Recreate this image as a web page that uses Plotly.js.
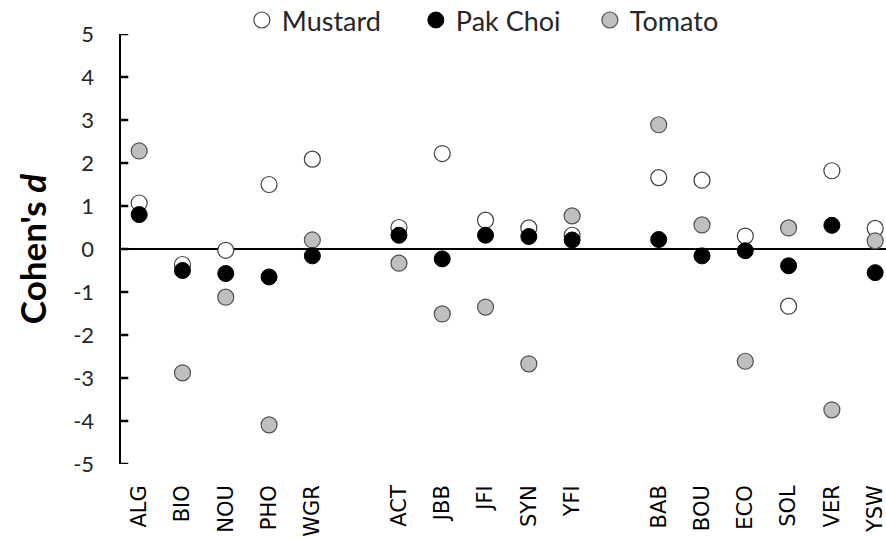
<!DOCTYPE html>
<html>
<head>
<meta charset="utf-8">
<script src="https://cdn.plot.ly/plotly-3.0.1.min.js"></script>
<style>html,body{margin:0;padding:0;background:#fff;}#chart{width:886px;height:538px;}</style>
</head>
<body>
<div id="chart"></div>
<script>
// Category labels and their slot positions (gaps between site groups)
const categories = ["ALG","BIO","NOU","PHO","WGR","ACT","JBB","JFI","SYN","YFI","BAB","BOU","ECO","SOL","VER","YSW"];
const slots = [0,1,2,3,4,6,7,8,9,10,12,13,14,15,16,17];

const mustard = [1.07,-0.36,-0.03,1.50,2.09,0.50,2.22,0.67,0.49,0.32,1.66,1.60,0.30,-1.33,1.82,0.48];
const pakChoi = [0.80,-0.50,-0.57,-0.65,-0.16,0.32,-0.23,0.32,0.29,0.21,0.22,-0.16,-0.04,-0.39,0.55,-0.55];
const tomato  = [2.28,-2.88,-1.12,-4.09,0.21,-0.33,-1.51,-1.35,-2.67,0.77,2.89,0.56,-2.61,0.49,-3.74,0.19];

const yTicks = [-5,-4,-3,-2,-1,0,1,2,3,4,5];
const yTickText = ["-5","-4","-3","-2","-1","0","1","2","3","4","5"];

const traces = [
  {name:"Mustard", x:slots, y:mustard, type:"scatter", mode:"markers", legendrank:1,
   marker:{size:16, color:"#ffffff", line:{color:"#404040", width:1.2}}},
  {name:"Tomato", x:slots, y:tomato, type:"scatter", mode:"markers", legendrank:3,
   marker:{size:16, color:"#bfbfbf", line:{color:"#505050", width:1.2}}},
  {name:"Pak Choi", x:slots, y:pakChoi, type:"scatter", mode:"markers", legendrank:2,
   marker:{size:16, color:"#000000", line:{color:"#000000", width:1}}}
];

// inside tick marks on the y axis, one per tick value
const tickShapes = yTicks.map(v => ({
  type:"line", xref:"paper", yref:"y", x0:0, x1:0.0095, y0:v, y1:v,
  line:{color:"#000000", width:2.5}, layer:"above"
}));

const layout = {
  width:886, height:538,
  margin:{l:121, r:0, t:34, b:74, pad:0, autoexpand:false},
  paper_bgcolor:"#ffffff", plot_bgcolor:"#ffffff",
  showlegend:true,
  legend:{orientation:"h", x:0.158, xanchor:"left", yref:"container", y:0.962, yanchor:"middle",
          entrywidth:129,
          font:{family:"Lato, 'Open Sans', sans-serif", size:27, color:"#262626"},
          bgcolor:"rgba(0,0,0,0)", traceorder:"normal"},
  xaxis:{range:[-0.42,17.25], tickvals:slots, ticktext:categories, tickangle:-90,
         showgrid:false, zeroline:false, showline:false, ticks:"", fixedrange:true,
         ticklabelstandoff:16, ticklabeloverflow:"allow", automargin:false,
         tickfont:{family:"'DejaVu Sans', sans-serif", size:21, color:"#000000"}},
  yaxis:{range:[-5,5], tickvals:yTicks, ticktext:yTickText, showgrid:false, zeroline:true, zerolinecolor:"#000000",
         zerolinewidth:2.5, showline:true, linecolor:"#000000", linewidth:2.5,
         ticks:"outside", ticklen:20, tickwidth:1, tickcolor:"rgba(0,0,0,0)", automargin:false,
         tickfont:{family:"Lato, 'Open Sans', sans-serif", size:22, color:"#262626"},
         title:{text:"<b>Cohen's <i>d</i></b>", standoff:16,
                font:{family:"Lato, 'Open Sans', sans-serif", size:35, color:"#000000"}}},
  shapes: tickShapes
};

Plotly.newPlot("chart", traces, layout, {displayModeBar:false, staticPlot:true});
</script>
</body>
</html>
